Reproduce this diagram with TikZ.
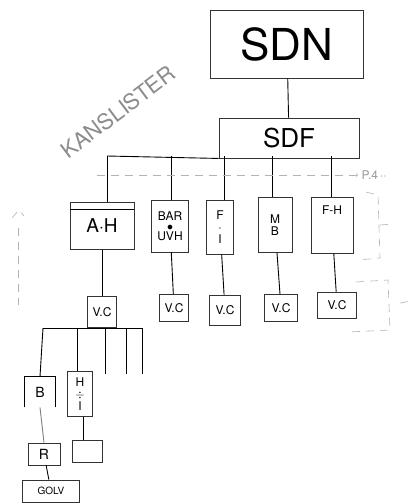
\documentclass[tikz,border=0pt]{standalone}
\usepackage{fontspec}
\setmainfont{TeX Gyre Heros}
\usetikzlibrary{positioning}
\begin{document}
\begin{tikzpicture}[x=1pt,y=-1pt,line width=0.9pt,
        box/.style={draw=black!80,line width=0.9pt,inner sep=0pt,align=center},
        small/.style={font=\fontsize{12}{12}\selectfont},
        pencil/.style={draw=black!30,line width=0.6pt,dash pattern=on 8pt off 6pt}]
    \useasboundingbox (0,0) rectangle (411,504);
    % top of the tree
    \node[box,minimum width=153pt,minimum height=68pt,font=\fontsize{44}{44}\selectfont] (sdn) at (287,44) {SDN};
    \node[box,minimum width=140pt,minimum height=40pt,font=\fontsize{26}{26}\selectfont] (sdf) at (289,138) {SDF};
    \draw (sdn) -- (sdf);
    \node[black!45,rotate=37,font=\fontsize{22}{22}\selectfont] (kans) at (118,112) {KANSLISTER};
    % second row
    \node[box,minimum width=64pt,minimum height=47pt,font=\fontsize{19}{19}\selectfont] (ah) at (102,226) {A$\cdot$H};
    \draw ([yshift=-7pt]ah.north west) -- ([yshift=-7pt]ah.north east);
    \node[box,small,minimum width=37pt,minimum height=52pt] (bar) at (170,226) {BAR\\[-2pt]$\bullet$\\[-2pt]UVH};
    \node[box,small,minimum width=27pt,minimum height=54pt] (fi) at (220,227) {F\\$\cdot$\\I};
    \node[box,small,minimum width=34pt,minimum height=55pt] (mb) at (275,225) {M\\B};
    \node[box,small,minimum width=42pt,minimum height=56pt] (fh) at (332,225) {F-H\\[18pt]};
    \coordinate (busw) at (107,156);
    \draw (busw) -- (sdf.south west);
    \foreach \n/\x in {ah/107,bar/171,fi/224,mb/272,fh/331}
        \draw (\x,156) -- (\x,0 |- \n.north);
    \draw[pencil,->] (97,175) -- (358,175) node[right,black!40,font=\fontsize{12}{12}\selectfont] (pfour) {P.4\,$\cdot\cdot$};
    % V.C row
    \node[box,small,minimum width=29pt,minimum height=31pt] (vca) at (102,312) {V.C};
    \node[box,small,minimum width=29pt,minimum height=27pt] (vcb) at (174,308) {V.C};
    \node[box,small,minimum width=31pt,minimum height=30pt] (vcc) at (225,310) {V.C};
    \node[box,small,minimum width=33pt,minimum height=27pt] (vcd) at (281,308) {V.C};
    \node[box,small,minimum width=39pt,minimum height=26pt] (vce) at (337,305) {V.C};
    \foreach \a/\b in {ah/vca,bar/vcb,fi/vcc,mb/vcd,fh/vce}
        \draw (\a) -- (\b);
    % under the first V.C
    \coordinate (subw) at (43,328);
    \coordinate (sube) at (142,328);
    \draw (subw) -- (sube);
    \foreach \x in {105,126,142}
        \draw (\x,328) -- (\x,374);
    \node[small,inner sep=0pt,minimum width=30pt,minimum height=30pt,font=\fontsize{14}{14}\selectfont] (b) at (40,392) {B};
    \draw (b.south west) -- (b.north west) -- (b.north east) -- (b.south east);
    \node[box,small,minimum width=25pt,minimum height=45pt] (hi) at (80,394) {H\\$\div$\\I};
    \draw (subw) -- (b.north);
    \draw (77,328) -- (77,0 |- hi.north);
    \node[box,minimum width=30pt,minimum height=22pt] (empty) at (87,451) {};
    \draw (83,0 |- hi.south) -- (83,0 |- empty.north);
    \node[box,small,minimum width=32pt,minimum height=22pt,font=\fontsize{14}{14}\selectfont] (r) at (44,454) {R};
    \node[box,minimum width=57pt,minimum height=22pt,font=\fontsize{10}{10}\selectfont] (golv) at (51,491) {GOLV};
    \draw[black!50] (b.south) -- (r.north);
    \draw (r) -- (golv);
    % pencil marks
    \draw[pencil] (12,218) -- (19,210) -- (24,216);
    \draw[pencil] (18,228) -- (18,305);
    \draw[pencil] (366,192) -- (378,195) -- (380,258) -- (358,260);
    \draw[pencil] (380,225) -- (393,224);
    \draw[pencil] (356,282) -- (388,280) -- (390,330) -- (348,332);
    \draw[pencil] (400,303) -- (411,301);
\end{tikzpicture}
\end{document}
